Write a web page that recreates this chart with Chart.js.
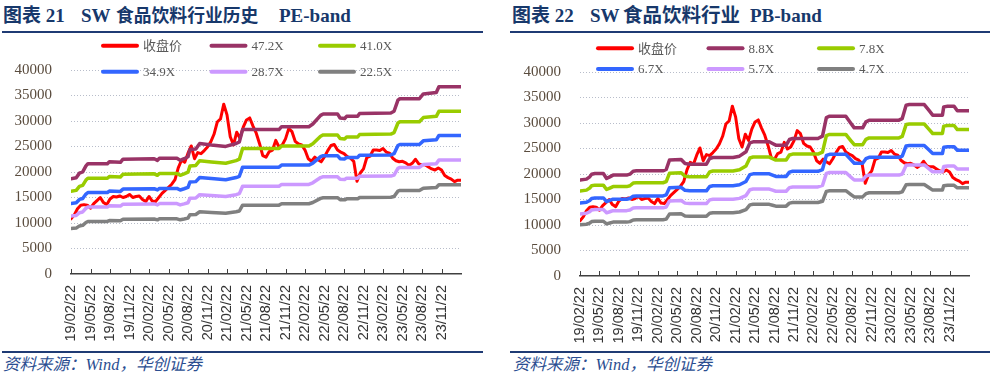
<!DOCTYPE html>
<html lang="zh-CN">
<head>
<meta charset="utf-8">
<title>SW 食品饮料行业 PE-band / PB-band</title>
<script src="https://cdn.jsdelivr.net/npm/chart.js@4.4.1/dist/chart.umd.min.js"></script>
<style>
  html, body { margin: 0; padding: 0; background: #fff; }
  #page { position: relative; width: 990px; height: 376px; overflow: hidden; }
  .title { position: absolute; top: 5px; font: bold 19px "Liberation Serif", "Noto Sans CJK SC", serif; color: #17386b; white-space: nowrap; line-height: 22px; }
  .rule { position: absolute; height: 2px; background: #1f3b74; }
  .source { position: absolute; top: 355px; font: italic 16.5px "Liberation Serif", "Noto Sans CJK SC", serif; color: #2b4e91; white-space: nowrap; line-height: 20px; }
  canvas { position: absolute; top: 36px; }
</style>
</head>
<body>
<div id="page">
  <div class="title" style="left:3px">图表 21</div>
  <div class="title" style="left:81px">SW</div>
  <div class="title" style="left:116px; font-size:17.8px">食品饮料行业历史</div>
  <div class="title" style="left:279px">PE-band</div>
  <div class="rule" style="left:2px; top:31px; width:481px"></div>

  <div class="title" style="left:512px">图表 22</div>
  <div class="title" style="left:590px">SW</div>
  <div class="title" style="left:623px; font-size:19.5px">食品饮料行业</div>
  <div class="title" style="left:750px">PB-band</div>
  <div class="rule" style="left:510px; top:31px; width:480px"></div>

  <canvas id="peChart" width="483" height="314" style="left:0"></canvas>
  <canvas id="pbChart" width="495" height="314" style="left:495px"></canvas>

  <div class="rule" style="left:2px; top:351px; width:481px"></div>
  <div class="rule" style="left:510px; top:351px; width:480px"></div>
  <div class="source" style="left:3px">资料来源：Wind，华创证券</div>
  <div class="source" style="left:513px">资料来源：Wind，华创证券</div>
</div>

<script>
// x = months since 2019/02/22, one close every half month
const xTickLabels = ['19/02/22', '19/05/22', '19/08/22', '19/11/22', '20/02/22', '20/05/22', '20/08/22', '20/11/22',
  '21/02/22', '21/05/22', '21/08/22', '21/11/22', '22/02/22', '22/05/22', '22/08/22', '22/11/22',
  '23/02/22', '23/05/22', '23/08/22', '23/11/22'];
const X_MAX = 60;
const CLOSE_STEP = 0.5;

const closeValues = [
  10800, 11600, 12800, 13500, 13600, 13500, 12900, 13800, 14400, 15000,
  14000, 13600, 14700, 15200, 15100, 15300, 15000, 15200, 15600, 15000,
  15200, 15300, 14600, 14200, 15200, 14300, 14200, 15000, 15800, 16400,
  17000, 17600, 18500, 20800, 22300, 21900, 23700, 25100, 22600, 23800,
  23600, 24200, 24900, 25900, 27400, 29800, 30400, 33300, 31200, 26900,
  25300, 27800, 26600, 28800, 30200, 30600, 29000, 27600, 25600, 23200,
  22900, 24000, 24300, 26200, 24900, 25300, 26500, 28500, 27900, 26000,
  25500, 25300, 24300, 22600, 22100, 22900, 22400, 22000, 23000, 24200,
  25200, 25400, 24300, 23900, 23600, 23000, 22700, 22100, 18200, 19800,
  20600, 22800, 23100, 24300, 24300, 24200, 24600, 23900, 23700, 22700,
  22200, 22000, 22100, 21800, 21300, 21700, 22500, 21600, 21400, 21400,
  21000, 20600, 20400, 20800, 20400, 19300, 18900, 18600, 18100, 18400,
  18400
];

// PE band: earnings per index point at each change, band = eps * multiple
const peMultiples = [47.2, 41.0, 34.9, 28.7, 22.5];
const peX = [0, 0.8, 1.3, 1.8, 2.3, 2.6, 5.6, 5.9, 7.6, 8.0, 12.8, 13.3, 13.6, 16.3, 16.8, 17.4, 18.0, 18.3, 19.2, 19.8,
  21.6, 23.8, 25.4, 25.9, 26.4, 32.0, 32.4, 36.6, 37.2, 38.4, 38.8, 41.0, 41.4, 42.1, 42.4, 44.1, 44.4, 49.2, 49.7, 50.3,
  50.6, 53.6, 54.2, 56.2, 56.6, 60];
const peEps = [396, 400, 419, 424, 449, 458, 458, 466, 464, 477, 479, 472, 481, 481, 472, 479, 487, 517, 519, 542,
  536, 530, 542, 549, 600, 600, 612, 612, 623, 659, 665, 665, 648, 646, 655, 655, 667, 669, 676, 722,
  728, 728, 748, 754, 778, 778];

// PB band: book value per index point
const pbMultiples = [8.8, 7.8, 6.7, 5.7, 4.7];
const pbX = [0, 1.0, 1.5, 1.8, 2.3, 3.6, 4.1, 4.6, 5.1, 7.2, 7.7, 8.2, 8.7, 12.8, 13.3, 13.8, 15.6, 16.2, 16.9, 19.5,
  20.0, 20.5, 23.6, 24.6, 25.6, 26.2, 26.7, 29.2, 29.7, 30.2, 31.8, 32.3, 32.8, 36.7, 37.4, 38.0, 38.5, 41.0, 41.8, 42.3,
  43.6, 44.1, 44.6, 49.2, 49.7, 50.3, 50.8, 53.1, 53.8, 54.4, 55.9, 56.1, 56.7, 57.7, 58.2, 60];
const pbBvps = [2136, 2159, 2210, 2269, 2284, 2284, 2174, 2210, 2248, 2248, 2269, 2336, 2344, 2344, 2374, 2582, 2597, 2507, 2492, 2492,
  2618, 2641, 2641, 2670, 2767, 2967, 2990, 2990, 2952, 2915, 2915, 3041, 3064, 3064, 3116, 3531, 3560, 3560, 3398, 3301,
  3301, 3434, 3472, 3472, 3508, 3806, 3820, 3820, 3694, 3583, 3583, 3768, 3783, 3783, 3680, 3680];

const CLOSE_LABEL = '收盘价';
const CLOSE_COLOR = '#ff0000';
const BAND_COLORS = ['#993366', '#99cc00', '#3366ff', '#cc99ff', '#808080'];
const GRID_COLOR = '#b8bdca';
const AXIS_COLOR = '#404040';

// legend drawn over the top of the plot, 3 columns x 2 rows
const bandLegend = {
  id: 'bandLegend',
  afterDraw(chart, args, opts) {
    const ctx = chart.ctx;
    ctx.save();
    ctx.font = '13px "Liberation Serif", "Noto Sans CJK SC", serif';
    ctx.textBaseline = 'middle';
    chart.data.datasets.forEach((ds, i) => {
      const x = opts.left + (i % 3) * opts.colGap;
      const y = opts.rows[Math.floor(i / 3)];
      ctx.strokeStyle = ds.borderColor;
      ctx.lineWidth = 4;
      ctx.lineCap = 'round';
      ctx.beginPath(); ctx.moveTo(x + 2, y); ctx.lineTo(x + 36, y); ctx.stroke();
      ctx.fillStyle = '#595959';
      ctx.fillText(ds.label, x + 42, y + 1);
    });
    ctx.restore();
  }
};

// tick marks pointing up into the plot
const innerTicks = {
  id: 'innerTicks',
  afterDraw(chart) {
    const xs = chart.scales.x, ctx = chart.ctx, y0 = chart.chartArea.bottom;
    ctx.save();
    ctx.strokeStyle = AXIS_COLOR;
    ctx.lineWidth = 1;
    xs.ticks.forEach((t, i) => {
      const px = Math.round(xs.getPixelForTick(i)) + 0.5;
      ctx.beginPath(); ctx.moveTo(px, y0); ctx.lineTo(px, y0 - 5); ctx.stroke();
    });
    ctx.restore();
  }
};

function buildDatasets(bandX, base, multiples) {
  const sets = [{
    label: CLOSE_LABEL,
    data: closeValues.map((v, i) => ({ x: i * CLOSE_STEP, y: v })),
    borderColor: CLOSE_COLOR, borderWidth: 3, order: 1
  }];
  multiples.forEach((m, k) => {
    sets.push({
      label: m.toFixed(1) + 'X',
      data: bandX.map((x, j) => ({ x, y: base[j] * m })),
      borderColor: BAND_COLORS[k], borderWidth: 3.5, order: 0
    });
  });
  return sets;
}

function makeChart(id, datasets, cfg) {
  return new Chart(document.getElementById(id), {
    type: 'line',
    data: { datasets },
    options: {
      responsive: false, animation: false, devicePixelRatio: 1,
      layout: { padding: { top: cfg.top, right: cfg.right, bottom: 0, left: 0 } },
      elements: { point: { radius: 0 }, line: { tension: 0, borderJoinStyle: 'round', borderCapStyle: 'round' } },
      plugins: { legend: { display: false }, tooltip: { enabled: false }, bandLegend: cfg.legend },
      scales: {
        x: {
          type: 'linear', min: 0, max: X_MAX,
          afterBuildTicks: s => { s.ticks = xTickLabels.map((_, i) => ({ value: i * 3 })); },
          afterFit: s => { s.height = cfg.xAxisHeight; },
          grid: { display: false, drawTicks: false },
          border: { color: AXIS_COLOR, width: 1.5 },
          ticks: {
            autoSkip: false, minRotation: 90, maxRotation: 90, padding: cfg.xPad,
            color: '#333', font: { family: 'Liberation Sans', size: 14.5 },
            callback: (v, i) => xTickLabels[i]
          }
        },
        y: {
          min: 0, max: 40000,
          afterFit: s => { s.width = cfg.yAxisWidth; },
          grid: { drawTicks: false, color: c => c.tick.value === 0 ? 'rgba(0,0,0,0)' : GRID_COLOR },
          border: { display: false, dash: [1, 2] },
          ticks: {
            stepSize: 5000, padding: 19, color: '#5a4c3e', font: { family: 'Liberation Serif', size: 15 },
            callback: v => String(v)
          }
        }
      }
    },
    plugins: [bandLegend, innerTicks]
  });
}

makeChart('peChart', buildDatasets(peX, peEps, peMultiples), {
  top: 34, right: 22, xAxisHeight: 76, yAxisWidth: 71, xPad: 11,
  legend: { left: 101, colGap: 108.5, rows: [9.7, 35.7] }
});
makeChart('pbChart', buildDatasets(pbX, pbBvps, pbMultiples), {
  top: 36, right: 21, xAxisHeight: 74, yAxisWidth: 85, xPad: 11,
  legend: { left: 101, colGap: 110.5, rows: [12.3, 33] }
});
</script>
</body>
</html>
